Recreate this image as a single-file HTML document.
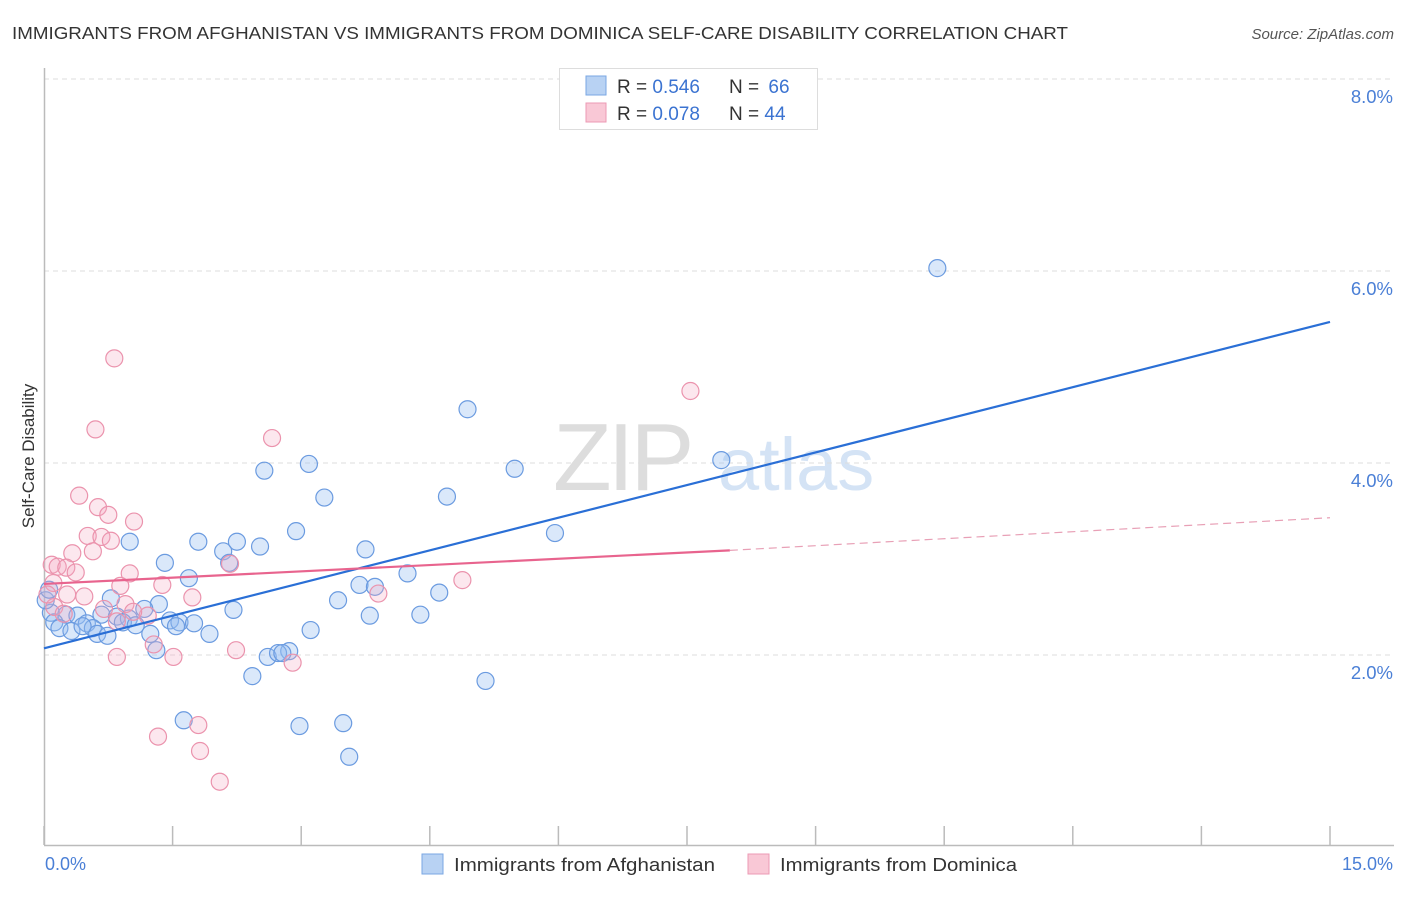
<!DOCTYPE html>
<html><head><meta charset="utf-8"><style>
body{margin:0;background:#fff;font-family:"Liberation Sans",sans-serif;}
svg text{font-family:"Liberation Sans",sans-serif;}
</style></head><body>
<svg id="chart" width="1406" height="892" xmlns="http://www.w3.org/2000/svg">
<text x="12" y="39" font-size="17.5" fill="#333" textLength="1056" lengthAdjust="spacingAndGlyphs">IMMIGRANTS FROM AFGHANISTAN VS IMMIGRANTS FROM DOMINICA SELF-CARE DISABILITY CORRELATION CHART</text>
<text x="1394" y="39" font-size="15" fill="#555" text-anchor="end" font-style="italic">Source: ZipAtlas.com</text>
<g><text x="553" y="490" font-size="96" fill="#ddd" font-family="Liberation Serif" letter-spacing="-4">ZIP</text><text x="718" y="490" font-size="74" fill="#d4e3f5">atlas</text></g>
<g id="grid"></g>
<line x1="44.5" y1="68" x2="44.5" y2="845" stroke="#bbb" stroke-width="1.5"/>
<line x1="44" y1="845.5" x2="1394" y2="845.5" stroke="#bbb" stroke-width="1.5"/>
<g id="ticks"></g>
<text transform="translate(34,456) rotate(-90)" font-size="17" fill="#333" text-anchor="middle">Self-Care Disability</text>
<text x="45" y="870" font-size="18" fill="#4a7fd6">0.0%</text>
<text x="1393" y="870" font-size="18" fill="#4a7fd6" text-anchor="end">15.0%</text>
<g id="points"></g>
<g id="trends"></g>
<g>
<rect x="559.5" y="68.5" width="258" height="61" fill="#fff" stroke="#ddd"/>
<rect x="586" y="76" width="20" height="19" fill="#b8d2f3" stroke="#7aa7e3"/>
<rect x="586" y="103" width="20" height="19" fill="#f9c8d6" stroke="#ec9ab4"/>
<text x="617" y="93" font-size="19" fill="#333">R = <tspan fill="#3b73d1">0.546</tspan></text>
<text x="729" y="93" font-size="19" fill="#333">N = <tspan dx="4" fill="#3b73d1">66</tspan></text>
<text x="617" y="120" font-size="19" fill="#333">R = <tspan fill="#3b73d1">0.078</tspan></text>
<text x="729" y="120" font-size="19" fill="#333">N = <tspan fill="#3b73d1">44</tspan></text>
</g>
<g>
<rect x="422" y="854" width="21" height="20" fill="#b8d2f3" stroke="#7aa7e3"/>
<text x="454" y="871" font-size="18.5" fill="#333" textLength="261" lengthAdjust="spacingAndGlyphs">Immigrants from Afghanistan</text>
<rect x="748" y="854" width="21" height="20" fill="#f9c8d6" stroke="#ec9ab4"/>
<text x="780" y="871" font-size="18.5" fill="#333" textLength="237" lengthAdjust="spacingAndGlyphs">Immigrants from Dominica</text>
</g>
</svg>
<script>
const yTicks=[2,4,6,8];
const yTickLabels=["2.0%","4.0%","6.0%","8.0%"];
const xTicks=[0,1.5,3,4.5,6,7.5,9,10.5,12,13.5,15];
const afgX=[10.42,4.94,7.90,5.49,3.09,2.57,4.70,3.27,5.96,2.94,1.00,1.80,2.25,2.52,2.09,3.75,1.41,2.16,4.24,1.69,3.68,3.86,4.61,3.43,1.34,0.78,1.17,2.21,3.80,4.39,0.08,0.26,0.39,0.67,0.85,0.99,1.47,1.58,1.75,0.12,0.50,0.92,1.07,0.18,0.57,1.54,3.11,0.32,0.62,0.74,1.24,1.93,1.31,2.86,2.61,2.73,2.78,2.43,5.15,1.63,2.98,3.49,3.56,0.02,0.06,0.45];
const afgY=[6.03,4.56,4.03,3.94,3.99,3.92,3.65,3.64,3.27,3.29,3.18,3.18,3.18,3.13,3.08,3.10,2.96,2.96,2.85,2.80,2.73,2.71,2.65,2.57,2.53,2.59,2.48,2.47,2.41,2.42,2.44,2.42,2.41,2.42,2.40,2.38,2.36,2.34,2.33,2.34,2.33,2.34,2.31,2.28,2.28,2.30,2.26,2.25,2.22,2.20,2.22,2.22,2.05,2.04,1.98,2.02,2.02,1.78,1.73,1.32,1.26,1.29,0.94,2.57,2.68,2.30];
const domX=[0.82,7.54,0.60,2.66,0.41,0.63,0.75,1.05,0.51,0.67,0.78,0.57,0.33,0.09,0.16,0.26,0.37,2.17,1.00,1.38,0.89,4.88,0.11,0.47,0.27,1.73,3.90,0.12,0.70,0.95,1.21,0.85,1.28,2.24,0.85,1.51,2.90,1.33,1.80,1.82,2.05,0.04,0.23,1.04];
const domY=[5.09,4.75,4.35,4.26,3.66,3.54,3.46,3.39,3.24,3.23,3.19,3.08,3.06,2.94,2.92,2.91,2.86,2.95,2.85,2.73,2.72,2.78,2.75,2.61,2.63,2.60,2.64,2.50,2.48,2.53,2.41,2.35,2.11,2.05,1.98,1.98,1.92,1.15,1.27,1.00,0.68,2.63,2.43,2.45];
const afgTrend=[2.07,5.47];
const domTrend=[2.74,3.09,3.43];
const domTrendSolidEnd=8.0;
const NS="http://www.w3.org/2000/svg";
const xs=v=>44+v/15*1286;
const ys=v=>847-v*96;
function mk(tag,attrs,parent){const e=document.createElementNS(NS,tag);for(const k in attrs)e.setAttribute(k,attrs[k]);parent.appendChild(e);return e;}
const grid=document.getElementById('grid');
yTicks.forEach((t,i)=>{
 const l=mk('line',{x1:44,x2:1394,y1:ys(t),y2:ys(t),stroke:'#ddd','stroke-dasharray':'5,4'},grid);
 
 
 const tx=mk('text',{x:1393,y:ys(t)+24,'font-size':18.5,fill:'#4a7fd6','text-anchor':'end'},grid);
 tx.textContent=yTickLabels[i];
 
 
});
const ticks=document.getElementById('ticks');
xTicks.forEach(t=>{
 const l=mk('line',{x1:xs(t),x2:xs(t),y1:826,y2:845,stroke:'#bbb','stroke-width':1.5},ticks);
 
 
});
const pts=document.getElementById('points');
afgX.forEach((x,i)=>{
 const c=mk('circle',{cx:xs(x),cy:ys(afgY[i]),r:8.5,fill:'rgba(150,190,240,0.35)',stroke:'#6b9be0','stroke-width':1.2},pts);
 
 
});
domX.forEach((x,i)=>{
 const c=mk('circle',{cx:xs(x),cy:ys(domY[i]),r:8.5,fill:'rgba(245,170,195,0.28)',stroke:'#eb93ad','stroke-width':1.2},pts);
 
 
});
const tr=document.getElementById('trends');
const bl=mk('line',{x1:xs(0),y1:ys(afgTrend[0]),x2:xs(15),y2:ys(afgTrend[1]),stroke:'#2a6fd6','stroke-width':2.2},tr);


const pl=mk('line',{x1:xs(0),y1:ys(domTrend[0]),x2:xs(domTrendSolidEnd),y2:ys(domTrend[1]),stroke:'#e8648e','stroke-width':2.2},tr);


const pd=mk('line',{x1:xs(domTrendSolidEnd),y1:ys(domTrend[1]),x2:xs(15),y2:ys(domTrend[2]),stroke:'#e8a0b6','stroke-width':1.2,'stroke-dasharray':'8,5'},tr);


</script>
</body></html>
